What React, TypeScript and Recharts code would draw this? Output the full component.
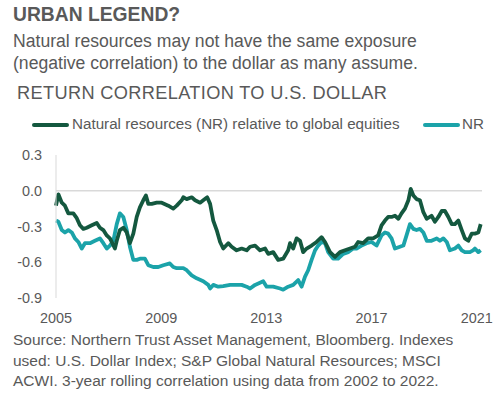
import React from 'react';
import { LineChart, Line, XAxis, YAxis, ReferenceLine } from 'recharts';

const relYears = [
  2005.0, 2005.09, 2005.22, 2005.34, 2005.47, 2005.66, 2005.79, 2005.91, 2006.04, 2006.17,
  2006.36, 2006.55, 2006.67, 2006.8, 2006.93, 2007.05, 2007.12, 2007.24, 2007.31, 2007.43,
  2007.56, 2007.69, 2007.81, 2007.94, 2008.07, 2008.19, 2008.32, 2008.42, 2008.51, 2008.64,
  2008.83, 2009.02, 2009.27, 2009.46, 2009.59, 2009.78, 2009.84, 2009.97, 2010.16, 2010.29,
  2010.48, 2010.6, 2010.75, 2010.86, 2010.98, 2011.11, 2011.24, 2011.36, 2011.55, 2011.68,
  2011.87, 2012.06, 2012.25, 2012.38, 2012.57, 2012.76, 2012.95, 2013.07, 2013.26, 2013.45,
  2013.64, 2013.83, 2013.9, 2014.02, 2014.15, 2014.28, 2014.4, 2014.53, 2014.72, 2014.91,
  2015.1, 2015.23, 2015.42, 2015.61, 2015.8, 2015.99, 2016.18, 2016.37, 2016.49, 2016.68,
  2016.87, 2017.06, 2017.25, 2017.38, 2017.51, 2017.63, 2017.76, 2017.89, 2018.02, 2018.14,
  2018.27, 2018.4, 2018.49, 2018.59, 2018.71, 2018.84, 2018.97, 2019.1, 2019.28, 2019.41,
  2019.54, 2019.67, 2019.79, 2019.92, 2020.05, 2020.17, 2020.3, 2020.43, 2020.55, 2020.68,
  2020.81, 2020.93, 2021.06, 2021.15,
];
const relValues = [
  -0.125, -0.03, -0.1, -0.125, -0.19, -0.19, -0.23, -0.29, -0.32, -0.31,
  -0.29, -0.27, -0.31, -0.33, -0.375, -0.4, -0.43, -0.485, -0.42, -0.33,
  -0.31, -0.35, -0.44, -0.36, -0.22, -0.14, -0.08, -0.04, -0.11, -0.11,
  -0.1, -0.1, -0.125, -0.15, -0.125, -0.08, -0.055, -0.07, -0.055, -0.08,
  -0.1, -0.08, -0.055, -0.11, -0.25, -0.33, -0.43, -0.485, -0.44, -0.47,
  -0.5, -0.485, -0.5, -0.47, -0.46, -0.5, -0.485, -0.53, -0.515, -0.58,
  -0.57, -0.5, -0.44, -0.485, -0.4, -0.42, -0.515, -0.485, -0.46, -0.43,
  -0.39, -0.43, -0.515, -0.555, -0.515, -0.5, -0.485, -0.47, -0.43, -0.44,
  -0.4, -0.4, -0.375, -0.29, -0.25, -0.22, -0.22, -0.21, -0.235, -0.19,
  -0.15, -0.08, 0.015, -0.04, -0.07, -0.08, -0.18, -0.235, -0.21, -0.26,
  -0.22, -0.17, -0.17, -0.22, -0.28, -0.28, -0.25, -0.33, -0.4, -0.42,
  -0.36, -0.36, -0.35, -0.28,
];

const nrYears = [
  2005.0, 2005.09, 2005.22, 2005.34, 2005.47, 2005.6, 2005.72, 2005.85, 2005.98, 2006.1,
  2006.29, 2006.48, 2006.67, 2006.8, 2006.93, 2007.05, 2007.18, 2007.31, 2007.43, 2007.56,
  2007.69, 2007.81, 2007.94, 2008.07, 2008.19, 2008.38, 2008.51, 2008.7, 2008.89, 2009.08,
  2009.33, 2009.46, 2009.59, 2009.84, 2009.97, 2010.16, 2010.35, 2010.6, 2010.79, 2010.86,
  2010.98, 2011.17, 2011.36, 2011.62, 2011.87, 2012.06, 2012.25, 2012.38, 2012.57, 2012.88,
  2013.01, 2013.26, 2013.52, 2013.64, 2013.83, 2014.02, 2014.21, 2014.34, 2014.47, 2014.59,
  2014.72, 2014.85, 2014.97, 2015.1, 2015.23, 2015.35, 2015.54, 2015.73, 2015.92, 2016.11,
  2016.3, 2016.43, 2016.62, 2016.81, 2017.0, 2017.19, 2017.38, 2017.51, 2017.63, 2017.76,
  2017.89, 2018.08, 2018.21, 2018.33, 2018.46, 2018.59, 2018.71, 2018.84, 2018.97, 2019.1,
  2019.28, 2019.48, 2019.6, 2019.73, 2019.86, 2019.98, 2020.17, 2020.3, 2020.43, 2020.55,
  2020.74, 2020.86, 2020.93, 2021.06, 2021.15,
];
const nrValues = [
  -0.25, -0.26, -0.33, -0.35, -0.33, -0.35, -0.4, -0.43, -0.485, -0.44,
  -0.44, -0.42, -0.4, -0.44, -0.485, -0.46, -0.42, -0.28, -0.19, -0.22,
  -0.33, -0.47, -0.58, -0.58, -0.57, -0.57, -0.625, -0.64, -0.64, -0.625,
  -0.61, -0.64, -0.65, -0.65, -0.667, -0.71, -0.735, -0.76, -0.79, -0.82,
  -0.79, -0.805, -0.8, -0.79, -0.79, -0.79, -0.805, -0.82, -0.79, -0.76,
  -0.805, -0.805, -0.82, -0.83, -0.805, -0.79, -0.75, -0.805, -0.72, -0.667,
  -0.58, -0.5, -0.46, -0.43, -0.44, -0.515, -0.57, -0.57, -0.53, -0.515,
  -0.485, -0.485, -0.46, -0.44, -0.43, -0.46, -0.375, -0.35, -0.36, -0.4,
  -0.485, -0.47, -0.46, -0.375, -0.28, -0.32, -0.33, -0.32, -0.35, -0.42,
  -0.42, -0.4, -0.42, -0.4, -0.43, -0.5, -0.485, -0.46, -0.5, -0.515,
  -0.515, -0.5, -0.485, -0.515, -0.5,
];

const yTicks = [-0.9, -0.6, -0.3, 0, 0.3];
const xTicks = [2005, 2009, 2013, 2017, 2021];

const relData = relYears.map((year, i) => ({ year, value: relValues[i] }));
const nrData = nrYears.map((year, i) => ({ year, value: nrValues[i] }));

const DARK = '#14583f';
const TEAL = '#1ba3a9';
const TEXT = '#595959';
const FONT = '"Liberation Sans", Arial, sans-serif';

const txt = (top: number, size: number, extra: React.CSSProperties = {}): React.CSSProperties => ({
  position: 'absolute',
  left: 13,
  top,
  fontSize: size,
  lineHeight: '22px',
  color: TEXT,
  whiteSpace: 'nowrap',
  ...extra,
});

const App: React.FC = () => {
  return (
    <div style={{ position: 'absolute', left: 0, top: 0, width: 500, height: 395, background: '#fff', fontFamily: FONT, overflow: 'hidden' }}>
      <div style={txt(4, 19.3, { fontWeight: 'bold' })}>URBAN LEGEND?</div>
      <div style={txt(30, 17.6)}>Natural resources may not have the same exposure</div>
      <div style={txt(52, 17.6)}>(negative correlation) to the dollar as many assume.</div>
      <div style={txt(82, 18.2, { left: 17, letterSpacing: 0.35 })}>RETURN CORRELATION TO U.S. DOLLAR</div>

      <div style={{ position: 'absolute', top: 114, left: 0, width: 500, fontSize: 15.2, color: TEXT, lineHeight: '20px', whiteSpace: 'nowrap' }}>
        <span style={{ position: 'absolute', left: 32, top: 9, width: 37, height: 4, background: DARK, borderRadius: 2 }} />
        <span style={{ position: 'absolute', left: 72 }}>Natural resources (NR) relative to global equities</span>
        <span style={{ position: 'absolute', left: 423, top: 9, width: 37, height: 4, background: TEAL, borderRadius: 2 }} />
        <span style={{ position: 'absolute', left: 462 }}>NR</span>
      </div>

      <div style={{ position: 'absolute', top: 140, left: 0 }}>
        <LineChart width={500} height={200} margin={{ top: 15, right: 18, bottom: 12, left: 0 }}>
          <XAxis
            type="number"
            dataKey="year"
            domain={[2005, 2021.2]}
            ticks={xTicks}
            allowDuplicatedCategory={false}
            axisLine={false}
            tickLine={false}
            tickMargin={9}
            height={30}
            tick={{ fill: TEXT, fontSize: 14.4, fontFamily: FONT }}
          />
          <YAxis
            type="number"
            domain={[-0.9, 0.3]}
            ticks={yTicks}
            width={56}
            axisLine={{ stroke: '#d9d9d9' }}
            tickLine={false}
            tickMargin={8}
            tickFormatter={(v: number) => v.toFixed(1)}
            tick={{ fill: TEXT, fontSize: 14.4, fontFamily: FONT }}
          />
          <ReferenceLine y={0} stroke="#d9d9d9" strokeWidth={1.5} />
          <Line data={nrData} dataKey="value" type="linear" stroke={TEAL} strokeWidth={3.8} dot={false} isAnimationActive={false} strokeLinejoin="round" />
          <Line data={relData} dataKey="value" type="linear" stroke={DARK} strokeWidth={3.8} dot={false} isAnimationActive={false} strokeLinejoin="round" />
        </LineChart>
      </div>

      <div style={txt(330, 15.5, { lineHeight: '20.5px' })}>
        Source: Northern Trust Asset Management, Bloomberg. Indexes<br />
        used: U.S. Dollar Index; S&amp;P Global Natural Resources; MSCI<br />
        ACWI. 3-year rolling correlation using data from 2002 to 2022.
      </div>
    </div>
  );
};

export default App;
